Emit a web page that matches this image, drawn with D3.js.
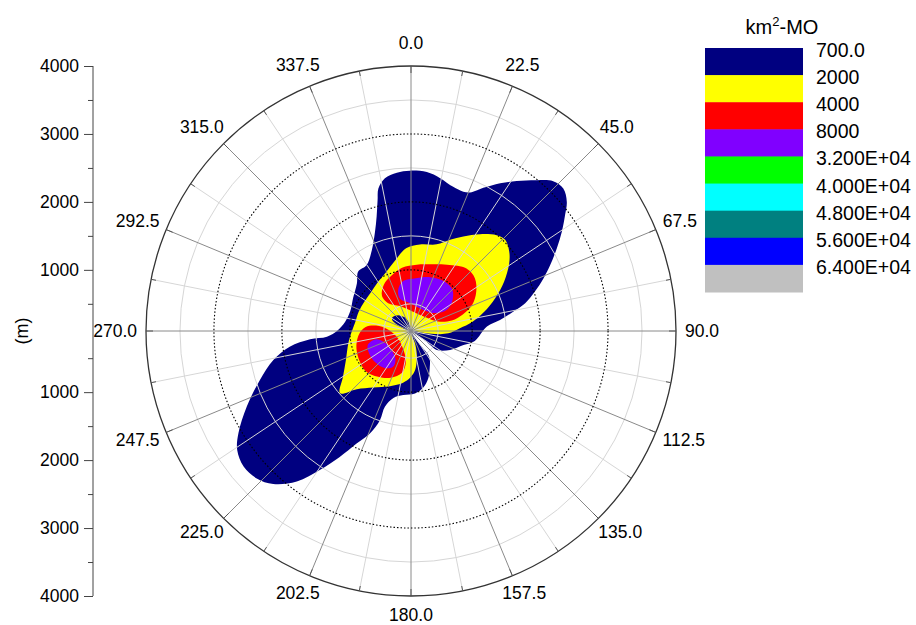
<!DOCTYPE html>
<html><head><meta charset="utf-8">
<script src="https://cdn.jsdelivr.net/npm/d3@7/dist/d3.min.js"></script>
<style>
body{margin:0;background:#fff;}
svg text{font-family:"Liberation Sans",Arial,sans-serif;fill:#000;}
</style></head><body>
<svg id="chart" width="916" height="625"></svg>
<script>
// ---------------- data ----------------
const angleTicks = d3.range(0, 360, 22.5);          // labelled directions (deg)
const minorAngles = d3.range(11.25, 360, 22.5);     // minor directions (deg)
const radialMajor = [1000, 2000, 3000];             // dotted circles (m)
const radialMinor = [500, 1500, 2500, 3500];        // light circles (m)
const axisMajor = [1000, 2000, 3000, 4000];         // labelled axis ticks (m)
const axisMinor = [500, 1500, 2500, 3500];
const radialDomain = [100, 4000];

const legendLabels = ["700.0", "2000", "4000", "8000", "3.200E+04", "4.000E+04", "4.800E+04", "5.600E+04", "6.400E+04"];
const levelColors = ["#000080", "#FFFF00", "#FF0000", "#8000FF", "#00FF00", "#00FFFF", "#008080", "#0000FF", "#C0C0C0"];

// contour outlines: [direction (deg), distance (m)]
const level700 = [[359.6,2460],[5.7,2450],[10.8,2390],[16.3,2310],[20.6,2290],[23.6,2330],[26.8,2460],[31.1,2640],[35.2,2800],[39.8,2990],[43.5,3140],[46.9,3170],[50.3,3080],[53.0,2940],[56.6,2760],[60.4,2570],[64.6,2370],[68.3,2200],[72.4,2010],[76.3,1830],[79.3,1630],[83.0,1420],[86.7,1220],[98.9,1050],[105,900],[116,740],[126.5,570],[126.4,450],[124,320],[125,200],[140,100],[151.3,220],[145.7,380],[144.2,540],[148.2,630],[152,690],[159.9,840],[167.7,950],[176.3,1020],[186.9,1050],[194.7,1120],[199,1280],[199.2,1490],[201.8,1720],[205.8,1940],[209.5,2230],[213.2,2540],[217.2,2880],[222,3130],[226.3,3240],[231,3270],[235.6,3200],[239.4,3050],[245.3,2760],[252,2440],[258.1,2170],[262.6,1900],[265.3,1590],[266.1,1340],[270,1190],[277.8,1080],[288.2,1040],[299.6,1080],[311.3,1160],[318.4,1270],[326.1,1270],[334.1,1420],[340,1650],[343.3,1860],[345.7,2090],[347.1,2250],[350.3,2380],[354.9,2440]];
const level2000 = [[35.5,1850],[41.8,1990],[45.9,2030],[51.0,1960],[55.6,1850],[62.1,1650],[68.7,1430],[75.4,1210],[81.6,1010],[86.8,820],[93.6,650],[97.1,460],[97.8,260],[130,100],[168.7,180],[162,290],[165.7,440],[170.3,580],[175.1,700],[181.2,790],[188.7,870],[200.9,970],[213.8,1100],[223,1270],[228.7,1490],[235.9,1310],[245.9,1150],[258.9,1040],[268.1,980],[279.1,930],[290.1,920],[301.7,910],[314.3,920],[326,970],[337,1040],[347.1,1160],[356.6,1320],[5.9,1380],[16.5,1430],[23.2,1560],[29,1690]];
const level700Hole = [[300,100],[343.3,250],[333.4,330],[320.9,400],[307.1,440],[300.1,420],[295,340],[290.6,230]];
const level4000NE = [[4.9,1080],[15.8,1120],[28.6,1210],[41.6,1330],[50.4,1320],[59,1220],[66.9,1080],[72.4,900],[75.6,720],[70.6,520],[45,390],[2.9,390],[336.3,500],[320.6,630],[320.4,770],[329.6,890],[340,960],[351.9,1040]];
const level4000SW = [[275.1,770],[278.9,620],[273.7,440],[242.6,320],[201.5,400],[189.3,560],[192.1,730],[203.3,850],[215.7,930],[228.4,990],[242.9,970],[255.5,930],[267.2,860]];
const level8000NE = [[350.8,840],[5.4,880],[19.6,940],[34.5,980],[45.3,960],[54.7,840],[59.6,700],[54.2,550],[29.2,460],[358,510],[341.3,600],[342.4,730]];
const level8000SW = [[252,770],[256.7,640],[247.8,530],[225.7,500],[209,570],[206.6,690],[215.6,770],[229.3,800],[241,800]];

const contours = [
  {level: 0, points: level700},
  {level: 1, points: level2000},
  {level: 0, points: level700Hole},
  {level: 2, points: level4000NE},
  {level: 2, points: level4000SW},
  {level: 3, points: level8000NE},
  {level: 3, points: level8000SW}
];

// ---------------- layout ----------------
const cx = 411, cy = 331, R = 265;
const svg = d3.select("#chart");
const rad = Math.PI / 180;
const r = d3.scaleLinear().domain(radialDomain).range([0, R]);
const color = d3.scaleOrdinal().domain(d3.range(levelColors.length)).range(levelColors);

const polar = svg.append("g").attr("transform", `translate(${cx},${cy})`);

const line = d3.lineRadial()
  .angle(d => d[0] * rad)
  .radius(d => r(d[1]))
  .curve(d3.curveCatmullRomClosed.alpha(0.5));

polar.selectAll("path.contour").data(contours).join("path")
  .attr("class", "contour")
  .attr("d", d => line(d.points))
  .attr("fill", d => color(d.level))
  .attr("stroke", "none");

// grid circles
polar.selectAll("circle.minor").data(radialMinor).join("circle")
  .attr("r", d => r(d)).attr("fill", "none").attr("stroke", "#d6d6d6").attr("stroke-width", 1);
// radial lines
const pt = (a, rr) => [Math.sin(a * rad) * rr, -Math.cos(a * rad) * rr];
polar.selectAll("line.rminor").data(minorAngles).join("line")
  .attr("x1", 0).attr("y1", 0)
  .attr("x2", d => pt(d, R)[0]).attr("y2", d => pt(d, R)[1])
  .attr("stroke", "#d6d6d6").attr("stroke-width", 1);
polar.selectAll("line.rmajor").data(angleTicks).join("line")
  .attr("x1", 0).attr("y1", 0)
  .attr("x2", d => pt(d, R)[0]).attr("y2", d => pt(d, R)[1])
  .attr("stroke", "#8a8a8a").attr("stroke-width", 1);
polar.selectAll("circle.major").data(radialMajor).join("circle")
  .attr("r", d => r(d)).attr("fill", "none").attr("stroke", "#000")
  .attr("stroke-width", 1.1).attr("stroke-dasharray", "1.5,2");
polar.append("circle").attr("r", R).attr("fill", "none").attr("stroke", "#333").attr("stroke-width", 1.3);
// ticks on outer circle
polar.selectAll("line.tmaj").data(angleTicks).join("line")
  .attr("x1", d => pt(d, R)[0]).attr("y1", d => pt(d, R)[1])
  .attr("x2", d => pt(d, R - 7)[0]).attr("y2", d => pt(d, R - 7)[1])
  .attr("stroke", "#555").attr("stroke-width", 1);
polar.selectAll("line.tmin").data(minorAngles).join("line")
  .attr("x1", d => pt(d, R)[0]).attr("y1", d => pt(d, R)[1])
  .attr("x2", d => pt(d, R - 5)[0]).attr("y2", d => pt(d, R - 5)[1])
  .attr("stroke", "#555").attr("stroke-width", 1);

// angle labels
const fmtA = d3.format(".1f");
polar.selectAll("text.alab").data(angleTicks).join("text")
  .attr("class", "alab")
  .attr("font-size", "17.5px")
  .attr("text-anchor", "middle")
  .attr("dominant-baseline", "central")
  .text(d => fmtA(d))
  .each(function(d) {
    const w = this.getComputedTextLength();
    const ux = Math.sin(d * rad), uy = -Math.cos(d * rad);
    const gy = uy < 0 ? 16 : 12;
    const x = ux * R + ux * (9 + w / 2);
    const y = uy * R + uy * (gy + 7);
    d3.select(this).attr("x", x).attr("y", y);
  });

// left radial axis
const axX = 93;
const yTop = d3.scaleLinear().domain(radialDomain).range([cy, cy - R]);
const yBot = d3.scaleLinear().domain(radialDomain).range([cy, cy + R]);
const axG = svg.append("g").attr("transform", `translate(${axX},0)`);
[yTop, yBot].forEach(sc => {
  const gMaj = axG.append("g").call(d3.axisLeft(sc).tickValues(axisMajor).tickSize(9).tickPadding(5).tickFormat(d3.format("d")));
  const gMin = axG.append("g").call(d3.axisLeft(sc).tickValues(axisMinor).tickSize(5).tickFormat(""));
  [gMaj, gMin].forEach(g => {
    g.select(".domain").remove();
    g.selectAll("line").attr("stroke", "#444");
    g.selectAll("text").attr("font-size", "17.5px").attr("font-family", "Liberation Sans, Arial, sans-serif").attr("fill", "#000");
  });
});
axG.append("line").attr("x1", 0).attr("x2", 0).attr("y1", yTop(radialDomain[1])).attr("y2", yBot(radialDomain[1]))
  .attr("stroke", "#444").attr("stroke-width", 1);
svg.append("text").attr("transform", `translate(22,${cy}) rotate(-90)`)
  .attr("text-anchor", "middle").attr("dominant-baseline", "central")
  .attr("font-size", "18px").text("(m)");

// legend
const legX = 705, legW = 98;
const legY = d3.scaleLinear().domain([0, legendLabels.length]).range([48, 292]);
const leg = svg.append("g");
leg.selectAll("rect").data(levelColors).join("rect")
  .attr("x", legX).attr("y", (d, i) => legY(i))
  .attr("width", legW).attr("height", (d, i) => legY(i + 1) - legY(i) + 0.5)
  .attr("fill", d => d);
leg.selectAll("text.ll").data(legendLabels).join("text")
  .attr("class", "ll")
  .attr("x", 816).attr("y", (d, i) => legY(i) + 2)
  .attr("dominant-baseline", "central")
  .attr("font-size", "19.5px").text(d => d);
const title = leg.append("text").attr("x", 782).attr("y", 34).attr("text-anchor", "middle").attr("font-size", "20px");
title.append("tspan").text("km");
title.append("tspan").attr("font-size", "13px").attr("dy", -8).text("2");
title.append("tspan").attr("dy", 8).text("-MO");
</script>
</body></html>
